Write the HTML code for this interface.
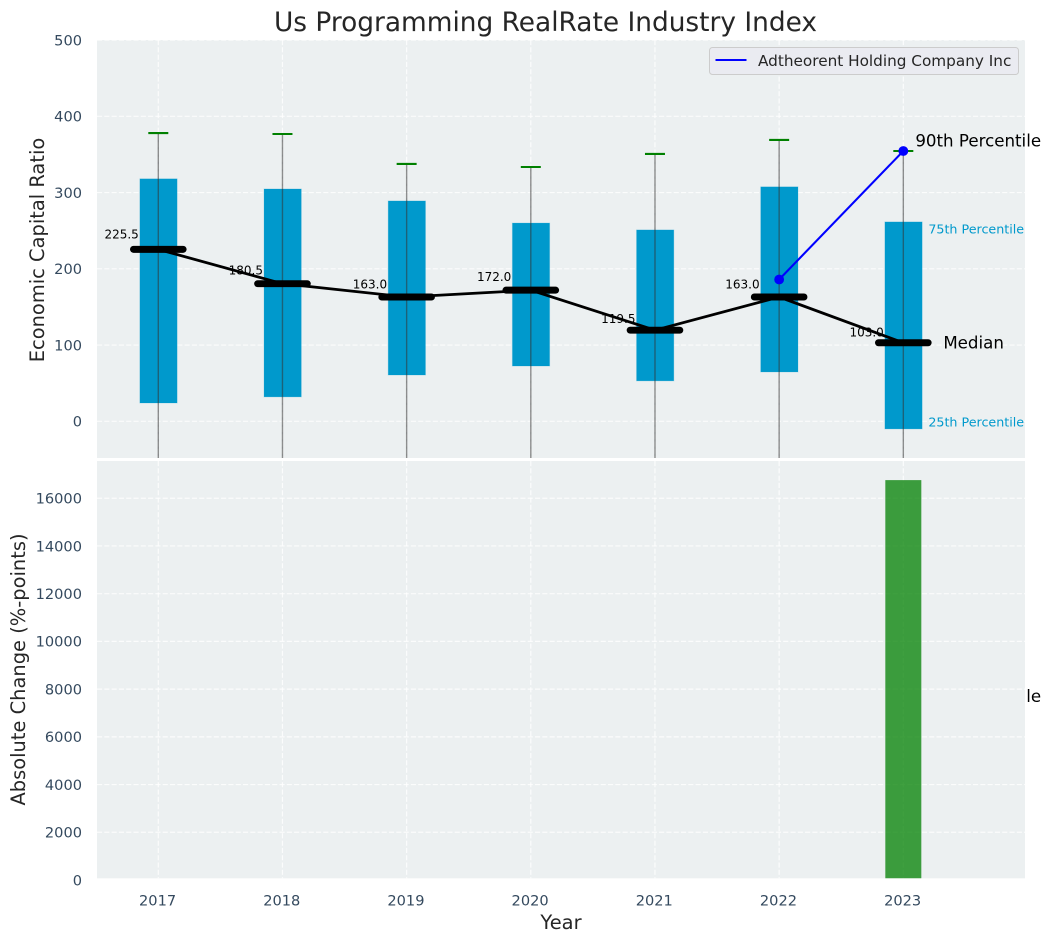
<!DOCTYPE html>
<html>
<head>
<meta charset="utf-8">
<title>Us Programming RealRate Industry Index</title>
<style>
html,body{margin:0;padding:0;background:#fff;width:1050px;height:942px;overflow:hidden}
svg{display:block;font-family:"DejaVu Sans","Liberation Sans",sans-serif}
</style>
</head>
<body>
<svg id="chart" xmlns="http://www.w3.org/2000/svg" width="1050" height="942" viewBox="0 0 1050 942">
<defs>
<clipPath id="top-clip"><rect x="97" y="40" width="928" height="418"/></clipPath>
<clipPath id="bottom-clip"><rect x="97" y="461" width="928" height="417.3"/></clipPath>
</defs>
</svg>
<script>
const years = [2017, 2018, 2019, 2020, 2021, 2022, 2023];
const p90 = [378, 376.8, 337.5, 333.5, 350.6, 369, 354.5];
const p75 = [318, 304.7, 289, 260, 251, 307.5, 261.5];
const medians = [225.5, 180.5, 163, 172, 119.5, 163, 103];
const p25 = [24, 32, 60.7, 72.5, 53, 64.7, -10];
const p10 = [-110, -95, -100, -90, -105, -95, -360];
const companyYears = [2022, 2023];
const companyValues = [186, 354.5];
const changeYears = [2023];
const changeValues = [16760];
const topTicks = [0, 100, 200, 300, 400, 500];
const bottomTicks = [0, 2000, 4000, 6000, 8000, 10000, 12000, 14000, 16000];

const svg = document.getElementById('chart');
const NS = 'http://www.w3.org/2000/svg';
const xScale = v => 158.3 + (v - 2017) * 124.17;
const yTop = v => 421.3 - v * 0.7625;
const yBottom = v => 880 - v * 0.02386;
const BOX_W = 0.3;
const MED_W = 0.4;

function make(tag, attrs, text) {
  const el = document.createElementNS(NS, tag);
  for (const k in attrs) el.setAttribute(k, attrs[k]);
  if (text !== undefined) el.textContent = text;
  svg.appendChild(el);
  return el;
}
const TICK = '#34495e';
const DARK = '#262626';
const DASH = '5.1 2.2';
const TICK_SIZE = 14.58;
const AXIS_SIZE = 19.44;
let el;

/* ---------- title ---------- */
el = make('text', {x: 545.5, y: 31, 'text-anchor': 'middle', 'font-size': 26.4, fill: DARK}, 'Us Programming RealRate Industry Index');



/* ---------- top panel ---------- */
el = make('rect', {x: 97, y: 40, width: 928, height: 418, fill: '#ecf0f1'});



topTicks.forEach(t => {
  el = make('line', {x1: 97, x2: 1025, y1: yTop(t), y2: yTop(t), stroke: '#fff', 'stroke-width': 1.2, 'stroke-dasharray': DASH, opacity: 0.8, 'clip-path': 'url(#top-clip)'});
  
  
  el = make('text', {x: 82, y: yTop(t) + 5.3, 'text-anchor': 'end', 'font-size': TICK_SIZE, fill: TICK}, String(t));
  
  
});
years.forEach(y => {
  el = make('line', {x1: xScale(y), x2: xScale(y), y1: 40, y2: 458, stroke: '#fff', 'stroke-width': 1.2, 'stroke-dasharray': DASH, opacity: 0.8});
  
  
});

/* ---------- percentile boxes ---------- */
years.forEach((y, i) => {
  const x0 = xScale(y) - BOX_W * 62.1 + 0.2, x1 = xScale(y) + BOX_W * 62.1 + 0.2;
  el = make('rect', {x: x0, y: yTop(p75[i]), width: x1 - x0, height: yTop(p25[i]) - yTop(p75[i]), fill: '#0099cc', stroke: '#0099cc', 'stroke-opacity': 0.2, 'stroke-width': 1, 'clip-path': 'url(#top-clip)'});
  
  
});

/* ---------- whiskers ---------- */
years.forEach((y, i) => {
  el = make('line', {x1: xScale(y), x2: xScale(y), y1: yTop(p90[i]), y2: yTop(p10[i]), stroke: '#333', 'stroke-opacity': 0.55, 'stroke-width': 1.39, 'clip-path': 'url(#top-clip)'});
  
  
  el = make('line', {x1: xScale(y) - 10, x2: xScale(y) + 10, y1: yTop(p90[i]), y2: yTop(p90[i]), stroke: 'green', 'stroke-width': 2.08, 'clip-path': 'url(#top-clip)'});
  
  
});

/* ---------- median value labels ---------- */
years.forEach((y, i) => {
  el = make('text', {x: xScale(y) - 19.5, y: yTop(medians[i] * 1.05) - 2.4, 'text-anchor': 'end', 'font-size': 12, fill: '#000'}, medians[i].toFixed(1));
  
  
});

/* ---------- median trend + bars ---------- */
el = make('polyline', {points: years.map((y, i) => xScale(y) + ',' + yTop(medians[i])).join(' '), fill: 'none', stroke: '#000', 'stroke-width': 2.78, 'clip-path': 'url(#top-clip)'});


years.forEach((y, i) => {
  el = make('line', {x1: xScale(y - MED_W / 2), x2: xScale(y + MED_W / 2), y1: yTop(medians[i]), y2: yTop(medians[i]), stroke: '#000', 'stroke-width': 6.94, 'stroke-linecap': 'round'});
  
  
});

/* ---------- company series ---------- */
el = make('polyline', {points: companyYears.map((y, i) => xScale(y) + ',' + yTop(companyValues[i])).join(' '), fill: 'none', stroke: '#0000ff', 'stroke-width': 2.08});


companyYears.forEach((y, i) => {
  el = make('circle', {cx: xScale(y), cy: yTop(companyValues[i]), r: 4.9, fill: '#0000ff'});
  
  
});

/* ---------- percentile annotations (last year) ---------- */
const lastX = xScale(years[years.length - 1]);
const lastIdx = years.length - 1;
el = make('text', {x: lastX + 12, y: yTop(p90[lastIdx]) - 4.3, 'font-size': 16.67, fill: '#000'}, '90th Percentile');


el = make('text', {x: lastX + 25, y: yTop(p75[lastIdx]) + 11.4, 'font-size': 12.7, fill: '#0099cc'}, '75th Percentile');


el = make('text', {x: lastX + 40, y: yTop(medians[lastIdx]) + 5.5, 'font-size': 16.67, fill: '#000'}, 'Median');


el = make('text', {x: lastX + 25, y: yTop(p25[lastIdx]) - 2.2, 'font-size': 12.7, fill: '#0099cc'}, '25th Percentile');


el = make('text', {x: lastX + 12, y: yTop(p10[lastIdx]) + 6, 'font-size': 16.67, fill: '#000'}, '10th Percentile');



/* ---------- legend ---------- */
el = make('rect', {x: 709.5, y: 47.5, width: 309, height: 27, rx: 3, fill: '#eaebf1', stroke: '#cccccc', 'stroke-width': 1});


el = make('line', {x1: 715.5, x2: 746.5, y1: 60, y2: 60, stroke: '#0000ff', 'stroke-width': 2.08});


el = make('text', {x: 758, y: 66, 'font-size': 15.28, fill: DARK}, 'Adtheorent Holding Company Inc');



/* ---------- bottom panel ---------- */
el = make('rect', {x: 97, y: 461, width: 928, height: 417.3, fill: '#ecf0f1'});



bottomTicks.forEach(t => {
  el = make('line', {x1: 97, x2: 1025, y1: yBottom(t), y2: yBottom(t), stroke: '#fff', 'stroke-width': 1.2, 'stroke-dasharray': DASH, opacity: 0.8, 'clip-path': 'url(#bottom-clip)'});
  
  
  el = make('text', {x: 82, y: yBottom(t) + 5.3, 'text-anchor': 'end', 'font-size': TICK_SIZE, fill: TICK}, String(t));
  
  
});
years.forEach(y => {
  el = make('line', {x1: xScale(y), x2: xScale(y), y1: 461, y2: 878.3, stroke: '#fff', 'stroke-width': 1.2, 'stroke-dasharray': DASH, opacity: 0.8});
  
  
  el = make('text', {x: xScale(y) - 0.7, y: 905.5, 'text-anchor': 'middle', 'font-size': TICK_SIZE, fill: TICK}, String(y));
  
  
});
changeYears.forEach((y, i) => {
  const x0 = xScale(y) - BOX_W * 60, x1 = xScale(y) + BOX_W * 60;
  el = make('rect', {x: x0, y: yBottom(changeValues[i]), width: x1 - x0, height: yBottom(0) - yBottom(changeValues[i]), fill: 'green', 'fill-opacity': 0.75, 'clip-path': 'url(#bottom-clip)'});
  
  
});

/* ---------- axis titles ---------- */
el = make('text', {x: 561, y: 929, 'text-anchor': 'middle', 'font-size': AXIS_SIZE, fill: DARK}, 'Year');


el = make('text', {transform: 'translate(44,250) rotate(-90)', 'text-anchor': 'middle', 'font-size': AXIS_SIZE, fill: DARK}, 'Economic Capital Ratio');


el = make('text', {transform: 'translate(25,669.5) rotate(-90)', 'text-anchor': 'middle', 'font-size': AXIS_SIZE, fill: DARK}, 'Absolute Change (%-points)');


</script>
</body>
</html>
